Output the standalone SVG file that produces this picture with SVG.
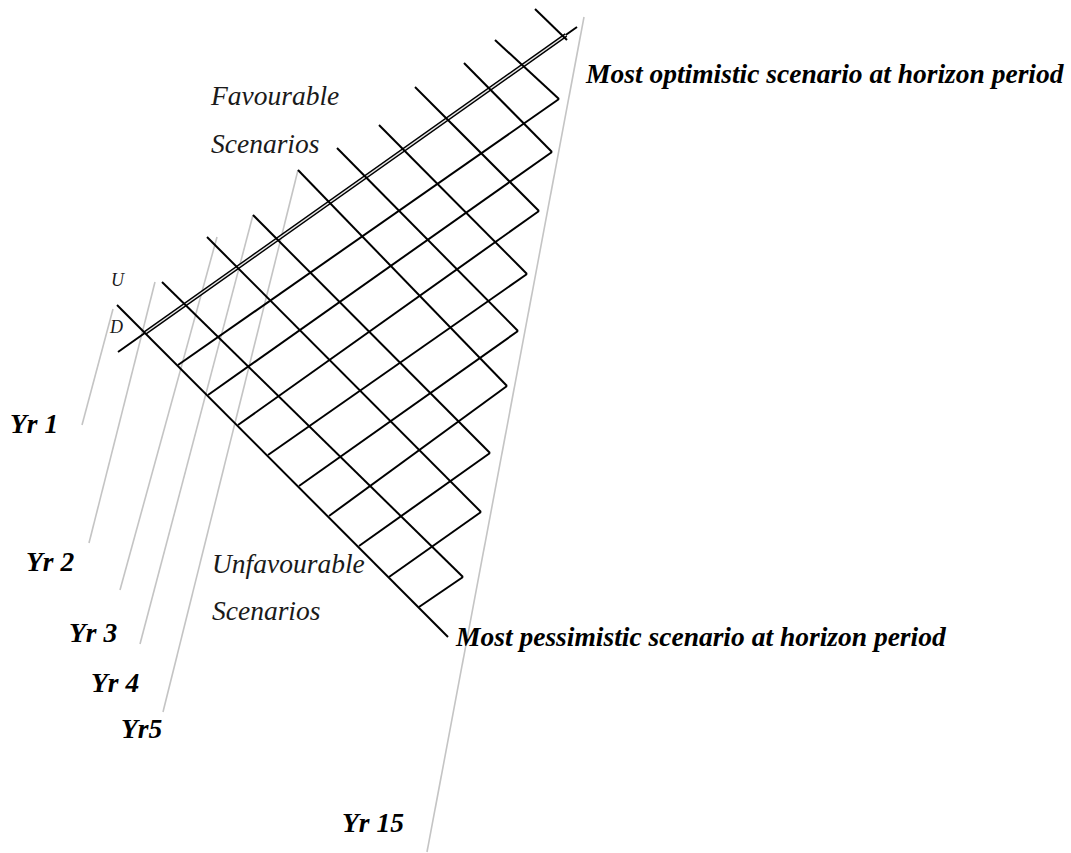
<svg xmlns="http://www.w3.org/2000/svg" width="1071" height="853" viewBox="0 0 1071 853">
<style>
  .bg { fill: #ffffff; }
  .grid line { stroke: #000000; stroke-width: 2; stroke-linecap: butt; fill: none; }
  .year line { stroke: #c4c4c4; stroke-width: 1.6; fill: none; }
  .dbl-outer { stroke: #000000; stroke-width: 4.2; fill: none; }
  .dbl-inner { stroke: #e8e8e8; stroke-width: 1.4; fill: none; }
  .lbl-it { font-family: "Liberation Serif", "Times New Roman", serif; font-style: italic; font-size: 27.5px; fill: #1a1a1a; }
  .lbl-small { font-family: "Liberation Serif", "Times New Roman", serif; font-style: italic; font-size: 18px; fill: #1a1a1a; }
  .lbl-bi { font-family: "Liberation Serif", "Times New Roman", serif; font-style: italic; font-weight: bold; font-size: 27.5px; fill: #000000; }
</style>
<rect class="bg" x="0" y="0" width="1071" height="853"/>

<!-- Year (time) guide lines -->
<g id="year-lines" class="year">
  <line x1="113" y1="309" x2="82" y2="425"/>
  <line x1="155" y1="282" x2="89" y2="543"/>
  <line x1="217" y1="237" x2="120" y2="590"/>
  <line x1="253" y1="215" x2="140" y2="644"/>
  <line x1="298" y1="170" x2="163" y2="712"/>
  <line x1="584" y1="17" x2="427" y2="852"/>
</g>

<!-- Connectors: lattice -->
<g id="connectors">
  <g id="main-up-line">
    <line x1="118" y1="352" x2="577" y2="27" stroke="#000" stroke-width="2"/>
    <line class="dbl-outer" x1="145" y1="333" x2="566" y2="35"/>
    <line class="dbl-inner" x1="145" y1="333" x2="566" y2="35"/>
  </g>
  <g id="up-lines" class="grid">
    <line x1="178" y1="365" x2="559" y2="99"/>
    <line x1="208" y1="395" x2="552" y2="152"/>
    <line x1="238" y1="425" x2="539" y2="211"/>
    <line x1="268" y1="455" x2="527" y2="274"/>
    <line x1="299" y1="486" x2="518" y2="331"/>
    <line x1="329" y1="516" x2="507" y2="386"/>
    <line x1="359" y1="546" x2="490" y2="453"/>
    <line x1="389" y1="577" x2="481" y2="512"/>
    <line x1="419" y1="607" x2="463" y2="577"/>
  </g>
  <g id="down-lines" class="grid">
    <line x1="117" y1="305" x2="448" y2="637"/>
    <line x1="162" y1="282" x2="463" y2="577"/>
    <line x1="207" y1="237" x2="481" y2="512"/>
    <line x1="253" y1="215" x2="490" y2="453"/>
    <line x1="298" y1="170" x2="507" y2="386"/>
    <line x1="337" y1="148" x2="518" y2="331"/>
    <line x1="379" y1="125" x2="527" y2="274"/>
    <line x1="415" y1="87" x2="539" y2="211"/>
    <line x1="464" y1="63" x2="552" y2="152"/>
    <line x1="495" y1="40" x2="559" y2="99"/>
    <line x1="535" y1="9" x2="567" y2="40"/>
  </g>
</g>

<!-- Labels -->
<g id="favourable-label">
  <text class="lbl-it" x="211" y="105">Favourable</text>
  <text class="lbl-it" x="211" y="153">Scenarios</text>
</g>
<g id="unfavourable-label">
  <text class="lbl-it" x="212" y="573">Unfavourable</text>
  <text class="lbl-it" x="212" y="620">Scenarios</text>
</g>
<g id="ud-labels">
  <text class="lbl-small" x="111" y="286">U</text>
  <text class="lbl-small" x="110" y="333">D</text>
</g>
<g id="year-labels">
  <text class="lbl-bi" x="10" y="433">Yr 1</text>
  <text class="lbl-bi" x="26" y="571">Yr 2</text>
  <text class="lbl-bi" x="69" y="642">Yr 3</text>
  <text class="lbl-bi" x="91" y="692">Yr 4</text>
  <text class="lbl-bi" x="121" y="738">Yr5</text>
  <text class="lbl-bi" x="342" y="832">Yr 15</text>
</g>
<g id="optimistic-label">
  <text class="lbl-bi" x="586" y="83">Most optimistic scenario at horizon period</text>
</g>
<g id="pessimistic-label">
  <text class="lbl-bi" x="456" y="646">Most pessimistic scenario at horizon period</text>
</g>
</svg>
